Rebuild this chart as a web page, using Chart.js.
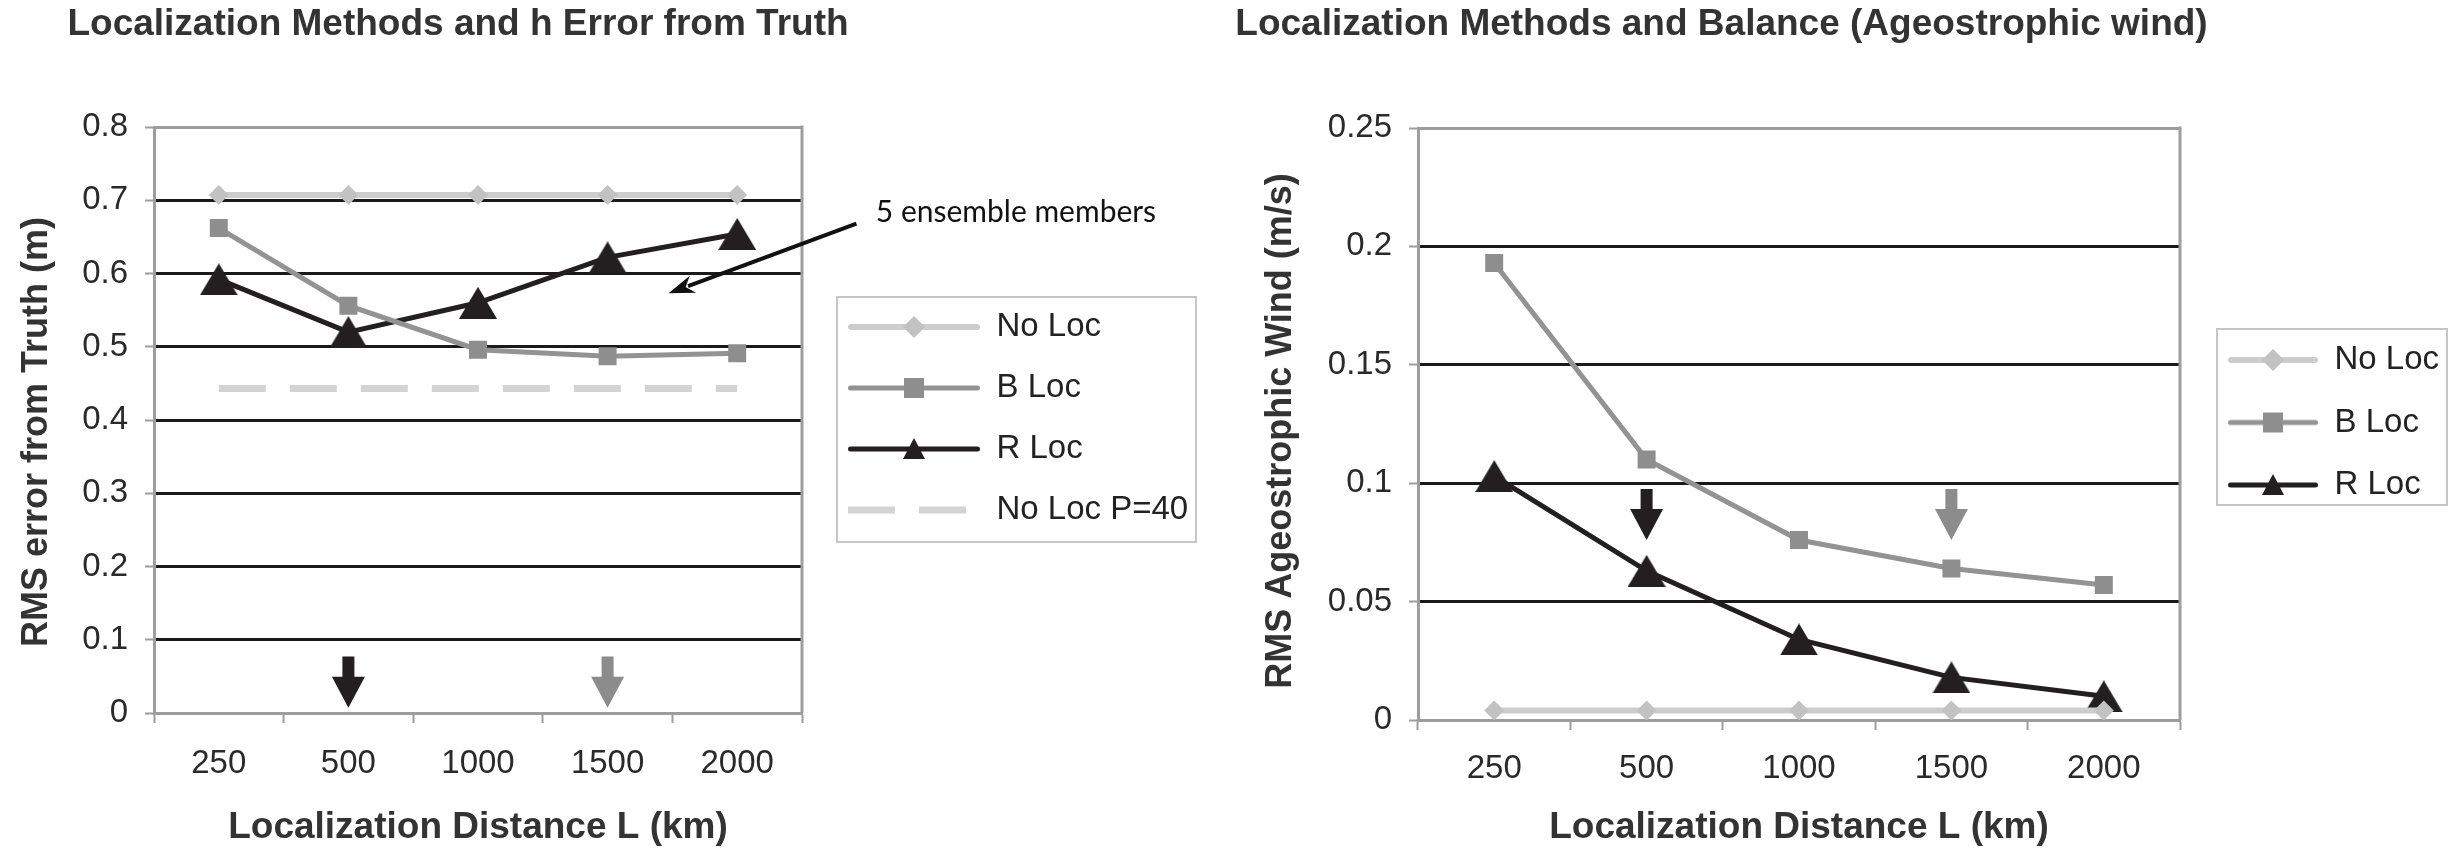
<!DOCTYPE html>
<html>
<head>
<meta charset="utf-8">
<script src="https://cdn.jsdelivr.net/npm/chart.js@4.4.0/dist/chart.umd.min.js"></script>
<style>
html,body{margin:0;padding:0;background:#fff;width:2452px;height:858px;overflow:hidden;}
#wrap{position:relative;width:2452px;height:858px;background:#fff;}
canvas{position:absolute;top:0;}
#c1{left:0;}
#c2{left:1226px;}
</style>
</head>
<body>
<div id="wrap">
<canvas id="c1" width="1226" height="858"></canvas>
<canvas id="c2" width="1226" height="858"></canvas>
</div>
<script>
// ---------------- data ----------------
const categories = ['250', '500', '1000', '1500', '2000'];

// Left chart: RMS error of h from truth (m)
const hNoLoc    = [0.707, 0.707, 0.707, 0.707, 0.707];
const hBLoc     = [0.662, 0.556, 0.496, 0.487, 0.491];
const hRLoc     = [0.592, 0.520, 0.560, 0.622, 0.654];
const hNoLocP40 = [0.443, 0.443, 0.443, 0.443, 0.443];
const hTickLabels = ['0', '0.1', '0.2', '0.3', '0.4', '0.5', '0.6', '0.7', '0.8'];

// Right chart: RMS ageostrophic wind (m/s)
const agNoLoc = [0.004, 0.004, 0.004, 0.004, 0.004];
const agBLoc  = [0.193, 0.110, 0.076, 0.064, 0.057];
const agRLoc  = [0.103, 0.063, 0.034, 0.018, 0.010];
const agTickLabels = ['0', '0.05', '0.1', '0.15', '0.2', '0.25'];

// optimal-L arrows (category index, arrow top value, arrow tip value)
const hArrowIndex   = [1, 3];
const hArrowTop     = [0.077, 0.077];
const hArrowTip     = [0.007, 0.007];
const agArrowIndex  = [1, 3];
const agArrowTop    = [0.0975, 0.0975];
const agArrowTip    = [0.076, 0.076];

// annotation on the left chart (category index / value)
const noteText = '5 ensemble members';
const noteAnchor = [5.07, 0.684];
const noteArrowFrom = [4.92, 0.668];
const noteArrowTo = [3.47, 0.573];

// ---------------- styles ----------------
const C_NOLOC = '#cdcdcd', C_NOLOC_PT = '#c2c2c2';
const C_BLOC = '#939393', C_BLOC_PT = '#8e8e8e';
const C_RLOC = '#231f20';
const C_P40 = '#d3d3d3';
const C_AXIS = '#9d9d9d';
const C_GRID = '#1a1a1a';
const C_TEXT = '#2a2a2a';
const ARROW_COLORS = ['#231f20', '#8c8c8c'];
const FONT = 'Liberation Sans, Arial, sans-serif';

function triangleImage(color, w, h) {
  const c = document.createElement('canvas');
  c.width = w; c.height = h;
  const g = c.getContext('2d');
  g.fillStyle = color;
  g.beginPath();
  g.moveTo(w / 2, 0); g.lineTo(w, h); g.lineTo(0, h); g.closePath();
  g.fill();
  return c;
}
const triPlot = triangleImage(C_RLOC, 38, 32);

function drawMarker(g, kind, color, cx, cy) {
  g.fillStyle = color;
  g.beginPath();
  if (kind === 'diamond') {
    g.moveTo(cx, cy - 11); g.lineTo(cx + 11, cy); g.lineTo(cx, cy + 11); g.lineTo(cx - 11, cy);
  } else if (kind === 'square') {
    g.rect(cx - 10, cy - 10, 20, 20);
  } else if (kind === 'triangle') {
    g.moveTo(cx, cy - 11); g.lineTo(cx + 11, cy + 10); g.lineTo(cx - 11, cy + 10);
  }
  g.closePath();
  g.fill();
}

function legendSample(ds, w) {
  const h = 40;
  const c = document.createElement('canvas');
  c.width = w; c.height = h;
  const g = c.getContext('2d');
  g.strokeStyle = ds.borderColor;
  g.lineWidth = ds.borderWidth;
  if (ds.borderDash) { g.setLineDash(ds.borderDash); g.lineCap = 'butt'; }
  else { g.lineCap = 'round'; }
  const p = ds.borderDash ? 0 : ds.borderWidth / 2;
  g.beginPath(); g.moveTo(p, h / 2); g.lineTo(w - p, h / 2); g.stroke();
  g.setLineDash([]);
  if (ds.legendMarker) drawMarker(g, ds.legendMarker, ds.pointBackgroundColor, w / 2, h / 2);
  return c;
}

function gridColorFor(max) {
  return (ctx) => {
    const v = ctx.tick ? ctx.tick.value : null;
    if (v === null || v === undefined) return C_GRID;
    if (Math.abs(v - max) < 1e-9 || Math.abs(v) < 1e-9) return C_AXIS;
    return C_GRID;
  };
}

// ---------------- decoration plugin ----------------
const decor = {
  id: 'decor',
  afterLayout(chart, args, o) {
    const lg = chart.legend;
    if (lg && o.legendArea) {
      const L = o.legendArea;
      lg.left = L.left; lg.top = L.top; lg.right = L.right; lg.bottom = L.bottom;
      lg.width = L.right - L.left; lg.height = L.bottom - L.top;
    }
    const tb = chart.titleBlock;
    if (tb && o.titleCenter) {
      tb.left = 0; tb.right = 2 * o.titleCenter; tb.width = tb.right;
    }
    const ys = chart.scales.y;
    if (ys && o.yTitleShift && !ys._shiftWrapped) {
      const orig = ys.drawTitle;
      const dy = o.yTitleShift;
      ys.drawTitle = function () {
        this.ctx.save();
        this.ctx.translate(0, dy);
        orig.apply(this, arguments);
        this.ctx.restore();
      };
      ys._shiftWrapped = true;
    }
  },
  beforeDatasetsDraw(chart) {
    const {ctx, chartArea: a} = chart;
    ctx.save();
    ctx.strokeStyle = C_AXIS; ctx.lineWidth = 3;
    ctx.beginPath(); ctx.moveTo(a.right, a.top - 1.5); ctx.lineTo(a.right, a.bottom); ctx.stroke();
    ctx.restore();
  },
  afterDatasetsDraw(chart, args, o) {
    const {ctx} = chart;
    const xs = chart.scales.x, ys = chart.scales.y;
    const idx = o.arrowIndex || [];
    ctx.save();
    idx.forEach((ix, k) => {
      const cx = xs.getPixelForValue(ix);
      const yT = ys.getPixelForValue(o.arrowTop[k]);
      const yP = ys.getPixelForValue(o.arrowTip[k]);
      const headH = 31, sh = 6, hh = 16.5;
      ctx.fillStyle = ARROW_COLORS[k % ARROW_COLORS.length];
      ctx.beginPath();
      ctx.moveTo(cx - sh, yT); ctx.lineTo(cx + sh, yT); ctx.lineTo(cx + sh, yP - headH);
      ctx.lineTo(cx + hh, yP - headH); ctx.lineTo(cx, yP); ctx.lineTo(cx - hh, yP - headH);
      ctx.lineTo(cx - sh, yP - headH); ctx.closePath(); ctx.fill();
    });
    ctx.restore();
  },
  afterDraw(chart, args, o) {
    const {ctx} = chart;
    if (o.box) {
      ctx.save();
      ctx.strokeStyle = '#c6c6c6'; ctx.lineWidth = 2;
      ctx.strokeRect(o.box.x, o.box.y, o.box.w, o.box.h);
      ctx.restore();
    }
    if (o.note) {
      const xs = chart.scales.x, ys = chart.scales.y;
      const n = o.note;
      ctx.save();
      ctx.fillStyle = '#111';
      ctx.font = '30px Lato, "Open Sans", sans-serif';
      ctx.textBaseline = 'middle'; ctx.textAlign = 'left';
      ctx.fillText(n.text, xs.getPixelForValue(n.anchor[0]), ys.getPixelForValue(n.anchor[1]));
      const x1 = xs.getPixelForValue(n.from[0]), y1 = ys.getPixelForValue(n.from[1]);
      const x2 = xs.getPixelForValue(n.to[0]), y2 = ys.getPixelForValue(n.to[1]);
      const ang = Math.atan2(y2 - y1, x2 - x1);
      const hl = 26, hw = 9;
      const bx = x2 - Math.cos(ang) * hl * 0.8, by = y2 - Math.sin(ang) * hl * 0.8;
      ctx.strokeStyle = '#111'; ctx.lineWidth = 4;
      ctx.beginPath(); ctx.moveTo(x1, y1); ctx.lineTo(bx, by); ctx.stroke();
      ctx.beginPath();
      ctx.moveTo(x2, y2);
      ctx.lineTo(x2 - Math.cos(ang) * hl + Math.sin(ang) * hw, y2 - Math.sin(ang) * hl - Math.cos(ang) * hw);
      ctx.lineTo(x2 - Math.cos(ang) * hl * 0.7, y2 - Math.sin(ang) * hl * 0.7);
      ctx.lineTo(x2 - Math.cos(ang) * hl - Math.sin(ang) * hw, y2 - Math.sin(ang) * hl + Math.cos(ang) * hw);
      ctx.closePath(); ctx.fillStyle = '#111'; ctx.fill();
      ctx.restore();
    }
  }
};

const whiteBg = {
  id: 'whiteBg',
  beforeDraw(chart) {
    const c = chart.ctx; c.save(); c.fillStyle = '#fff'; c.fillRect(0, 0, chart.width, chart.height); c.restore();
  }
};

function makeLegendLabels(sampleWidth) {
  return (chart) => chart.data.datasets.map((ds, i) => ({
    text: ds.label,
    pointStyle: legendSample(ds, sampleWidth),
    fillStyle: 'rgba(0,0,0,0)',
    strokeStyle: 'rgba(0,0,0,0)',
    lineWidth: 0,
    hidden: false,
    datasetIndex: i,
    fontColor: '#222'
  }));
}

function baseOptions(cfg) {
  return {
    responsive: false,
    animation: false,
    devicePixelRatio: 1,
    layout: { padding: { left: 0, top: 0, bottom: 0, right: cfg.padRight } },
    elements: { line: { tension: 0 } },
    plugins: {
      tooltip: { enabled: false },
      title: {
        display: true, text: cfg.title, color: '#333',
        font: { family: FONT, size: 37, weight: 'bold', lineHeight: 1.2 },
        padding: { top: 3, bottom: cfg.titlePadBottom }
      },
      legend: {
        display: true, position: 'right', align: 'start', maxWidth: 1,
        labels: {
          usePointStyle: true, pointStyleWidth: cfg.sampleWidth, padding: cfg.legendPad,
          color: '#222', font: { family: FONT, size: 33 },
          generateLabels: makeLegendLabels(cfg.sampleWidth)
        }
      },
      decor: cfg.decor
    },
    scales: {
      x: {
        type: 'category', offset: true,
        grid: { display: true, drawOnChartArea: false, drawTicks: true, tickLength: 10, offset: true, tickColor: C_AXIS, tickWidth: 2 },
        border: { display: true, color: C_AXIS, width: 3 },
        ticks: { color: C_TEXT, padding: cfg.xTickPad, font: { family: FONT, size: 33 }, maxRotation: 0, autoSkip: false },
        title: {
          display: true, text: 'Localization Distance L (km)', color: '#333',
          font: { family: FONT, size: 37, weight: 'bold', lineHeight: 1.2 },
          padding: { top: 0, bottom: 8 }
        },
        afterFit: (s) => { s.height = cfg.xAxisHeight; }
      },
      y: {
        type: 'linear', min: 0, max: cfg.yMax,
        grid: { color: gridColorFor(cfg.yMax), lineWidth: 3, drawTicks: true, tickLength: 9, tickColor: C_AXIS, tickWidth: 2 },
        border: { display: true, color: C_AXIS, width: 3 },
        ticks: {
          stepSize: cfg.yStep, autoSkip: false, color: C_TEXT, padding: 17,
          font: { family: FONT, size: 33 },
          callback: (v, i) => cfg.yLabels[i]
        },
        title: {
          display: true, text: cfg.yTitle, color: '#333',
          font: { family: FONT, size: 36, weight: 'bold', lineHeight: 1.2 },
          padding: { top: cfg.yTitlePadTop, bottom: 0 }
        },
        afterFit: (s) => { s.width = cfg.yAxisWidth; }
      }
    }
  };
}

// ---------------- left chart ----------------
const leftDatasets = [
  { label: 'No Loc', data: hNoLoc, borderColor: C_NOLOC, borderWidth: 6, pointStyle: 'rectRot', pointRadius: 10,
    pointBackgroundColor: C_NOLOC_PT, pointBorderWidth: 0, legendMarker: 'diamond' },
  { label: 'B Loc', data: hBLoc, borderColor: C_BLOC, borderWidth: 5, pointStyle: 'rect', pointRadius: 12.7,
    pointBackgroundColor: C_BLOC_PT, pointBorderWidth: 0, legendMarker: 'square' },
  { label: 'R Loc', data: hRLoc, borderColor: C_RLOC, borderWidth: 5, pointStyle: triPlot, pointRadius: 16,
    pointBackgroundColor: C_RLOC, pointBorderWidth: 0, legendMarker: 'triangle' },
  { label: 'No Loc P=40', data: hNoLocP40, borderColor: C_P40, borderWidth: 7, borderDash: [47, 24], pointRadius: 0,
    pointBackgroundColor: C_P40 }
];

new Chart(document.getElementById('c1'), {
  type: 'line',
  data: { labels: categories, datasets: leftDatasets },
  options: baseOptions({
    title: 'Localization Methods and h Error from Truth',
    padRight: 1226 - 802 - 1,
    titlePadBottom: 127 - 47.4,
    sampleWidth: 132, legendPad: 28,
    xTickPad: 21, xAxisHeight: 858 - 713,
    yMax: 0.8, yStep: 0.1, yLabels: hTickLabels,
    yTitle: 'RMS error from Truth (m)',
    yTitlePadTop: 15, yAxisWidth: 154,
    decor: {
      titleCenter: 458,
      yTitleShift: 12,
      legendArea: { left: 820, top: 282.5, right: 1200, bottom: 640 },
      box: { x: 837, y: 297, w: 359, h: 245 },
      arrowIndex: hArrowIndex, arrowTop: hArrowTop, arrowTip: hArrowTip,
      note: { text: noteText, anchor: noteAnchor, from: noteArrowFrom, to: noteArrowTo }
    }
  }),
  plugins: [whiteBg, decor]
});

// ---------------- right chart ----------------
const rightDatasets = [
  { label: 'No Loc', data: agNoLoc, borderColor: C_NOLOC, borderWidth: 6, pointStyle: 'rectRot', pointRadius: 10,
    pointBackgroundColor: C_NOLOC_PT, pointBorderWidth: 0, legendMarker: 'diamond' },
  { label: 'B Loc', data: agBLoc, borderColor: C_BLOC, borderWidth: 5, pointStyle: 'rect', pointRadius: 12.7,
    pointBackgroundColor: C_BLOC_PT, pointBorderWidth: 0, legendMarker: 'square' },
  { label: 'R Loc', data: agRLoc, borderColor: C_RLOC, borderWidth: 5, pointStyle: triPlot, pointRadius: 16,
    pointBackgroundColor: C_RLOC, pointBorderWidth: 0, legendMarker: 'triangle' }
];

new Chart(document.getElementById('c2'), {
  type: 'line',
  data: { labels: categories, datasets: rightDatasets },
  options: baseOptions({
    title: 'Localization Methods and Balance (Ageostrophic wind)',
    padRight: 1226 - 954 - 1,
    titlePadBottom: 128 - 47.4,
    sampleWidth: 90, legendPad: 29.5,
    xTickPad: 19, xAxisHeight: 858 - 720,
    yMax: 0.25, yStep: 0.05, yLabels: agTickLabels,
    yTitle: 'RMS Ageostrophic Wind (m/s)',
    yTitlePadTop: 33, yAxisWidth: 192,
    decor: {
      titleCenter: 495.5,
      yTitleShift: 7,
      legendArea: { left: 972.5, top: 314, right: 1226, bottom: 640 },
      box: { x: 991, y: 329, w: 230, h: 176 },
      arrowIndex: agArrowIndex, arrowTop: agArrowTop, arrowTip: agArrowTip
    }
  }),
  plugins: [whiteBg, decor]
});
</script>
</body>
</html>
